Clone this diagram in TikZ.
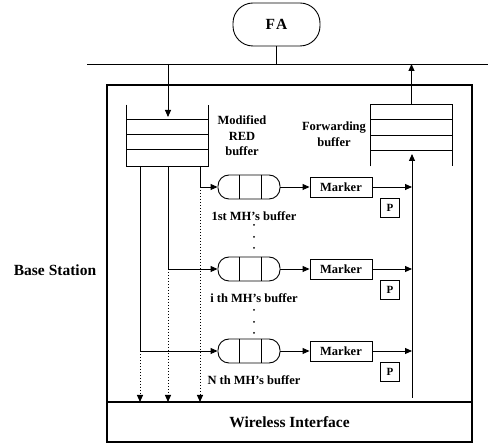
\documentclass[tikz,border=0pt]{standalone}
\usepackage{fontspec}
\setmainfont{Liberation Serif}
\usetikzlibrary{arrows.meta}
\begin{document}
\begin{tikzpicture}[x=1pt,y=-1pt,
  line width=0.9pt,
  tip/.style={-{Triangle[length=7pt,width=6pt]}},
  lbl/.style={font=\fontsize{12.5}{15.5}\selectfont\bfseries, inner sep=0pt, align=center},
  big/.style={font=\fontsize{15.5}{18}\selectfont\bfseries, inner sep=0pt},
  queue/.style={draw, rounded corners=11pt, minimum width=62pt, minimum height=24pt, inner sep=0pt},
  marker/.style={draw, minimum width=62pt, minimum height=20pt, inner sep=0pt, font=\fontsize{12.5}{15}\selectfont\bfseries},
  pbox/.style={draw, minimum width=19pt, minimum height=19pt, inner sep=0pt, font=\fontsize{11}{13}\selectfont\bfseries},
  buf/.style={minimum width=81pt, minimum height=61pt, inner sep=0pt}
]
\useasboundingbox (0,0) rectangle (488,443);

% FA and bus
\node[draw, rounded corners=20pt, minimum width=87pt, minimum height=43pt, big] (fa) at (276.5,24.5) {F\kern1pt A};
\coordinate (busL) at (87,64);
\coordinate (busR) at (488,64);
\draw (busL) -- (busR);
\coordinate (faBus) at (fa.south |- busL);
\draw (fa.south) -- (faBus);

% Base station box and wireless interface
\node[draw, line width=1.4pt, minimum width=365pt, minimum height=357pt, inner sep=0pt] (bs) at (289.5,263.5) {};
\node[draw, line width=1.2pt, minimum width=365pt, minimum height=40pt, big] (wi) at (289.5,422) {Wireless Interface};
\node[big] (bslbl) at (55,270) {Base Station};

% Modified RED buffer
\node[buf] (red) at (167.5,135.5) {};
\draw (red.north west) -- (red.south west) -- (red.south east) -- (red.north east);
\foreach \dy in {15,30,45} \draw ([yshift=-\dy pt]red.north west) -- ([yshift=-\dy pt]red.north east);
\node[lbl] (redlbl) at (242,136) {Modified\\RED\\buffer};
\coordinate (redIn) at (168,117);
\draw[tip] (busL -| redIn) -- (redIn);

% Forwarding buffer
\node[buf] (fwd) at (411.5,135.5) {};
\draw (fwd.south west) -- (fwd.north west) -- (fwd.north east) -- (fwd.south east);
\foreach \dy in {15,31,46} \draw ([yshift=-\dy pt]fwd.north west) -- ([yshift=-\dy pt]fwd.north east);
\node[lbl] (fwdlbl) at (334,134) {Forwarding\\buffer};
\draw[tip] (fwd.north) -- (fwd.north |- busL);

% collector line
\coordinate (colTop) at (412,154);
\coordinate (colBot) at (412,398);
\draw[tip] (colBot) -- (colTop);

% queues
\foreach \i/\y/\x/\txt in {1/187/200/1st MH's buffer, 2/269/168/i th MH's buffer, 3/351/140/N th MH's buffer}{
  \node[queue] (q\i) at (249,\y) {};
  \draw ([xshift=-10pt]q\i.north) -- ([xshift=-10pt]q\i.south);
  \draw ([xshift=12pt]q\i.north) -- ([xshift=12pt]q\i.south);
  \node[marker] (m\i) at (341,\y) {Marker};
  \node[pbox] (p\i) at (390,\y+21) {P};
  \node[lbl] (ql\i) at (254,\y+29) {\txt};
  \coordinate (src\i) at (\x,166);
  \coordinate (turn\i) at (\x,\y);
  \coordinate (wi\i) at (\x,402);
  \draw[tip] (src\i) -- (turn\i) -- (q\i.west);
  \draw[tip] (q\i.east) -- (m\i.west);
  \draw[tip] (m\i.east) -- (colBot |- m\i.east);
  \draw[tip, dotted, line width=1pt] (turn\i) -- (wi\i);
}

% vertical ellipsis dots
\foreach \y in {225,237,248,310,322,333}
  \fill (254,\y) circle (1pt);
\end{tikzpicture}
\end{document}
